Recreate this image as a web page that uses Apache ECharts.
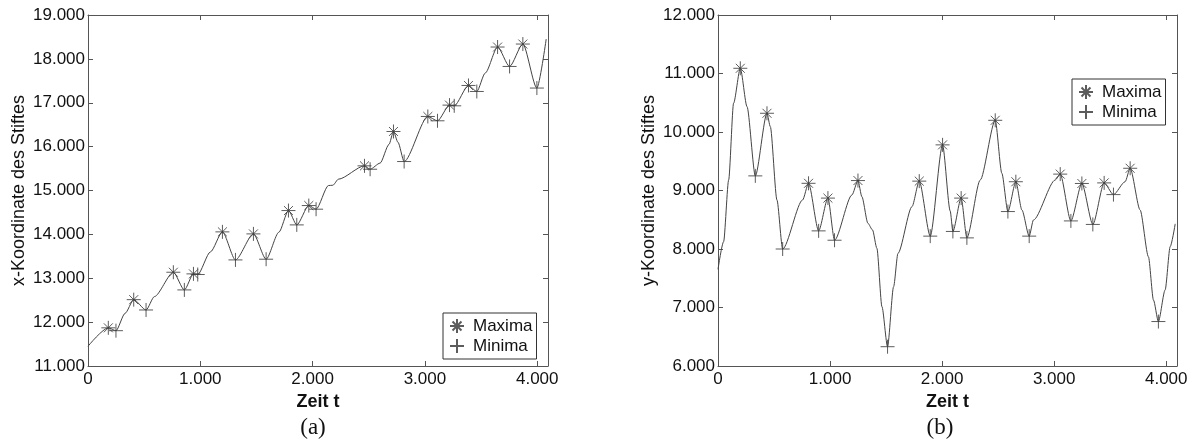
<!DOCTYPE html>
<html>
<head>
<meta charset="utf-8">
<script src="https://cdn.jsdelivr.net/npm/echarts@6/dist/echarts.min.js"></script>
<style>
  html, body { margin: 0; padding: 0; background: #fff; }
  #chart { width: 1195px; height: 441px; }
</style>
</head>
<body>
<div id="chart"></div>
<script>
// (a) x-Koordinate über Zeit
const tA = [0, 181, 249, 330, 407, 517, 591, 760, 858, 939, 977, 1090, 1197, 1313, 1473, 1586, 1700, 1785, 1859, 1966, 2031,
  2141, 2180, 2230, 2462, 2512, 2601, 2680, 2720, 2760, 2815, 3026, 3112, 3219, 3261, 3388, 3462, 3537, 3647, 3754, 3872, 3997, 4080]
const xA = [11450, 11870, 11805, 12200, 12512, 12277, 12581, 13137, 12734, 13100, 13085, 13600, 14057, 13418, 14011, 13434, 14050, 14543, 14216, 14657, 14574,
  15113, 15120, 15258, 15562, 15485, 15624, 16050, 16345, 16100, 15660, 16687, 16589, 16946, 16930, 17394, 17257, 17677, 18270, 17827, 18338, 17335, 18452]
const maxTA = [181, 407, 760, 939, 1197, 1473, 1785, 1966, 2462, 2720, 3026, 3219, 3388, 3647, 3872]
const maxXA = [11870, 12512, 13137, 13100, 14057, 14011, 14543, 14657, 15562, 16345, 16687, 16946, 17394, 18270, 18338]
const minTA = [249, 517, 858, 977, 1313, 1586, 1859, 2031, 2512, 2815, 3112, 3261, 3462, 3754, 3997]
const minXA = [11805, 12277, 12734, 13085, 13418, 13434, 14216, 14574, 15485, 15660, 16589, 16930, 17257, 17827, 17335]

// (b) y-Koordinate über Zeit
const tB = [0, 50, 95, 139, 199, 259, 333, 437, 467, 526, 577, 755, 808, 898, 981, 1040, 1195, 1249, 1284, 1338, 1379, 1418, 1463,
  1513, 1567, 1606, 1731, 1796, 1894, 2004, 2072, 2096, 2170, 2221, 2340, 2474, 2533, 2587, 2658, 2712, 2777, 2815, 3009, 3054,
  3149, 3247, 3345, 3446, 3529, 3633, 3678, 3767, 3841, 3886, 3930, 3990, 4035, 4080]
const yB = [7653, 8125, 9179, 10491, 11089, 10433, 9250, 10320, 10091, 8838, 8000, 8838, 9123, 8310, 8870, 8150, 8923, 9170, 8894, 8439, 8325, 8011, 7014,
  6330, 7356, 7926, 8724, 9160, 8220, 9780, 8650, 8300, 8870, 8190, 9179, 10200, 9294, 8640, 9150, 8667, 8220, 8496, 9179, 9280,
  8480, 9120, 8420, 9130, 8930, 9150, 9380, 8667, 7868, 7128, 6760, 7299, 8039, 8430]
const maxTB = [199, 437, 808, 981, 1249, 1796, 2004, 2170, 2474, 2658, 3054, 3247, 3446, 3678]
const maxYB = [11089, 10320, 9123, 8870, 9170, 9160, 9780, 8870, 10200, 9150, 9280, 9120, 9130, 9380]
const minTB = [333, 577, 898, 1040, 1513, 1894, 2096, 2221, 2587, 2777, 3149, 3345, 3529, 3930]
const minYB = [9250, 8000, 8310, 8150, 6330, 8220, 8300, 8190, 8640, 8220, 8480, 8420, 8930, 6760]

const pairs = (xs, ys) => xs.map((x, i) => [x, ys[i]])

const starPath = 'path://M5 0L5 10M0 5L10 5M1.8 1.8L8.2 8.2M8.2 1.8L1.8 8.2'
const plusPath = 'path://M5 0L5 10M0 5L10 5'

const sans = '"Liberation Sans", Arial, sans-serif'
const axisColor = '#555'

function fmt(v) {
  return v === 0 ? '0' : (v / 1000).toFixed(3)
}

function makeX(grid, top) {
  return {
    gridIndex: grid,
    type: 'value',
    position: top ? 'top' : 'bottom',
    min: 0,
    max: 4096,
    interval: 1000,
    name: top ? '' : 'Zeit t',
    nameLocation: 'middle',
    nameGap: 22,
    nameTextStyle: { fontFamily: sans, fontSize: 18, fontWeight: 'bold', color: '#111' },
    axisLine: { show: true, onZero: false, lineStyle: { color: axisColor, width: 1 } },
    axisTick: { show: true, inside: true, length: 5, lineStyle: { color: axisColor } },
    axisLabel: {
      show: !top, margin: 5, showMaxLabel: false,
      fontFamily: sans, fontSize: 17, color: '#111', formatter: fmt
    },
    splitLine: { show: false }
  }
}

function makeY(grid, right, min, max, name) {
  return {
    gridIndex: grid,
    type: 'value',
    position: right ? 'right' : 'left',
    min: min,
    max: max,
    interval: 1000,
    name: right ? '' : name,
    nameLocation: 'middle',
    nameGap: 60,
    nameTextStyle: { fontFamily: sans, fontSize: 18, color: '#111' },
    axisLine: { show: true, onZero: false, lineStyle: { color: axisColor, width: 1 } },
    axisTick: { show: true, inside: true, length: 5, lineStyle: { color: axisColor } },
    axisLabel: { show: !right, margin: 3, fontFamily: sans, fontSize: 17, color: '#111', formatter: fmt },
    splitLine: { show: false }
  }
}

function markerStyle() {
  return { color: '#333', borderColor: '#333', borderWidth: 1 }
}

function makeLegend(left, top) {
  return {
    orient: 'vertical',
    left: left,
    top: top,
    data: ['Maxima', 'Minima'],
    borderColor: '#333',
    borderWidth: 1,
    borderRadius: 0,
    backgroundColor: '#fff',
    padding: [3, 4, 3, 6],
    itemGap: 0,
    itemWidth: 22,
    itemHeight: 14,
    textStyle: { fontFamily: sans, fontSize: 17, color: '#111', lineHeight: 20 }
  }
}

const chart = echarts.init(document.getElementById('chart'))

chart.setOption({
  animation: false,
  backgroundColor: '#fff',
  grid: [
    { left: 88, top: 15, width: 460, height: 351 },
    { left: 718, top: 15, width: 459, height: 351 }
  ],
  xAxis: [makeX(0, false), makeX(0, true), makeX(1, false), makeX(1, true)],
  yAxis: [
    makeY(0, false, 11000, 19000, 'x-Koordinate des Stiftes'),
    makeY(0, true, 11000, 19000),
    makeY(1, false, 6000, 12000, 'y-Koordinate des Stiftes'),
    makeY(1, true, 6000, 12000)
  ],
  legend: [makeLegend(443, 313), makeLegend(1072, 79)],
  graphic: [
    { type: 'text', x: 313, y: 428, style: { text: '(a)', textAlign: 'center', textVerticalAlign: 'middle', font: '23px "Liberation Serif", serif', fill: '#111' } },
    { type: 'text', x: 940, y: 428, style: { text: '(b)', textAlign: 'center', textVerticalAlign: 'middle', font: '23px "Liberation Serif", serif', fill: '#111' } }
  ],
  series: [
    {
      type: 'line', xAxisIndex: 0, yAxisIndex: 0, data: pairs(tA, xA),
      showSymbol: false, smooth: 0.25, smoothMonotone: 'x',
      lineStyle: { color: '#444', width: 1 }, silent: true
    },
    {
      name: 'Maxima', type: 'scatter', xAxisIndex: 0, yAxisIndex: 0, data: pairs(maxTA, maxXA),
      symbol: starPath, symbolSize: 14, itemStyle: markerStyle()
    },
    {
      name: 'Minima', type: 'scatter', xAxisIndex: 0, yAxisIndex: 0, data: pairs(minTA, minXA),
      symbol: plusPath, symbolSize: 14, itemStyle: markerStyle()
    },
    {
      type: 'line', xAxisIndex: 2, yAxisIndex: 2, data: pairs(tB, yB),
      showSymbol: false, smooth: 0.25, smoothMonotone: 'x',
      lineStyle: { color: '#444', width: 1 }, silent: true
    },
    {
      name: 'Maxima', type: 'scatter', xAxisIndex: 2, yAxisIndex: 2, data: pairs(maxTB, maxYB),
      symbol: starPath, symbolSize: 14, itemStyle: markerStyle()
    },
    {
      name: 'Minima', type: 'scatter', xAxisIndex: 2, yAxisIndex: 2, data: pairs(minTB, minYB),
      symbol: plusPath, symbolSize: 14, itemStyle: markerStyle()
    }
  ]
})

window.addEventListener('resize', () => {
  chart.resize()
})
</script>
</body>
</html>
